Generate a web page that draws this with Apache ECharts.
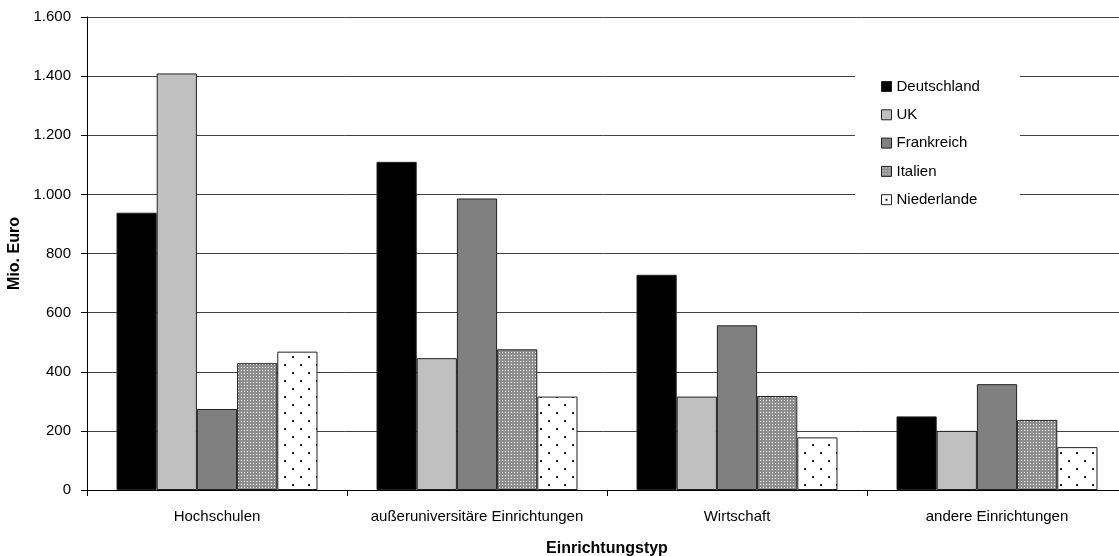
<!DOCTYPE html>
<html>
<head>
<meta charset="utf-8">
<script src="https://cdn.jsdelivr.net/npm/echarts@6/dist/echarts.min.js"></script>
<style>html,body{margin:0;padding:0;background:#fff}#c{width:1119px;height:556px}</style>
</head>
<body>
<div id="c"></div>
<script>
const categories = ['Hochschulen', 'außeruniversitäre Einrichtungen', 'Wirtschaft', 'andere Einrichtungen'];
const seriesNames = ['Deutschland', 'UK', 'Frankreich', 'Italien', 'Niederlande'];
const deutschland = [938, 1110, 728, 249];
const uk = [1409, 446, 316, 200];
const frankreich = [274, 986, 557, 358];
const italien = [429, 476, 318, 237];
const niederlande = [468, 316, 178, 145];
const yTicks = [0, 200, 400, 600, 800, 1000, 1200, 1400, 1600];

function makeItalien() {
  const c = document.createElement('canvas');
  c.width = 3; c.height = 3;
  const g = c.getContext('2d');
  g.fillStyle = '#8e8e8e'; g.fillRect(0, 0, 3, 3);
  g.fillStyle = '#ffffff'; g.fillRect(1, 1, 1, 1);
  return c;
}
function makeNL() {
  const c = document.createElement('canvas');
  c.width = 16; c.height = 16;
  const g = c.getContext('2d');
  g.fillStyle = '#ffffff'; g.fillRect(0, 0, 16, 16);
  g.fillStyle = '#222222';
  g.fillRect(4, 4, 2, 2);
  g.fillRect(12, 12, 2, 2);
  return c;
}
const fills = [
  '#000000',
  '#c0c0c0',
  '#808080',
  { image: makeItalien(), repeat: 'repeat' },
  { image: makeNL(), repeat: 'repeat' }
];
const values = [deutschland, uk, frankreich, italien, niederlande];
const fmt = v => String(v).replace(/\B(?=(\d{3})+(?!\d))/g, '.');

const chart = echarts.init(document.getElementById('c'), null, { renderer: 'canvas' });
chart.setOption({
  animation: false,
  backgroundColor: '#ffffff',
  textStyle: { fontFamily: 'Liberation Sans, Arial, sans-serif' },
  grid: { left: 87, top: 17, height: 473, width: 1040, outerBoundsMode: 'none', containLabel: false },
  legend: {
    orient: 'vertical',
    left: 855, top: 67,
    backgroundColor: '#ffffff',
    padding: [12, 40, 9, 26],
    itemWidth: 10, itemHeight: 10,
    itemGap: 13.3,
    icon: 'rect',
    data: seriesNames,
    textStyle: { fontSize: 15, color: '#000', lineHeight: 15, fontFamily: 'Liberation Sans, Arial, sans-serif' },
    itemStyle: { borderColor: '#222', borderWidth: 1 }
  },
  xAxis: {
    type: 'category',
    data: categories,
    name: 'Einrichtungstyp',
    nameLocation: 'middle',
    nameGap: 51,
    nameTextStyle: { fontSize: 16, fontWeight: 'bold', color: '#000' },
    axisLine: { lineStyle: { color: '#000', width: 1 } },
    axisTick: { show: true, alignWithLabel: false, length: 6, lineStyle: { color: '#000' } },
    axisLabel: { fontSize: 15, color: '#000', margin: 19, interval: 0 },
    splitLine: { show: false }
  },
  yAxis: {
    type: 'value',
    min: 0, max: 1600, interval: 200,
    name: 'Mio. Euro',
    nameLocation: 'middle',
    nameGap: 56,
    nameTextStyle: { fontSize: 16, fontWeight: 'bold', color: '#000' },
    axisLine: { show: true, lineStyle: { color: '#000', width: 1 } },
    axisTick: { show: true, length: 6, lineStyle: { color: '#000' } },
    axisLabel: { fontSize: 15, color: '#000', margin: 16, formatter: v => yTicks.includes(v) ? fmt(v) : '' },
    splitLine: { show: true, lineStyle: { color: '#404040', width: 1 } }
  },
  series: seriesNames.map((n, i) => ({
    name: n,
    type: 'bar',
    data: values[i],
    barGap: '0%',
    barCategoryGap: '22.7%',
    itemStyle: { color: fills[i], borderColor: '#222', borderWidth: 1 }
  }))
});
</script>
</body>
</html>
